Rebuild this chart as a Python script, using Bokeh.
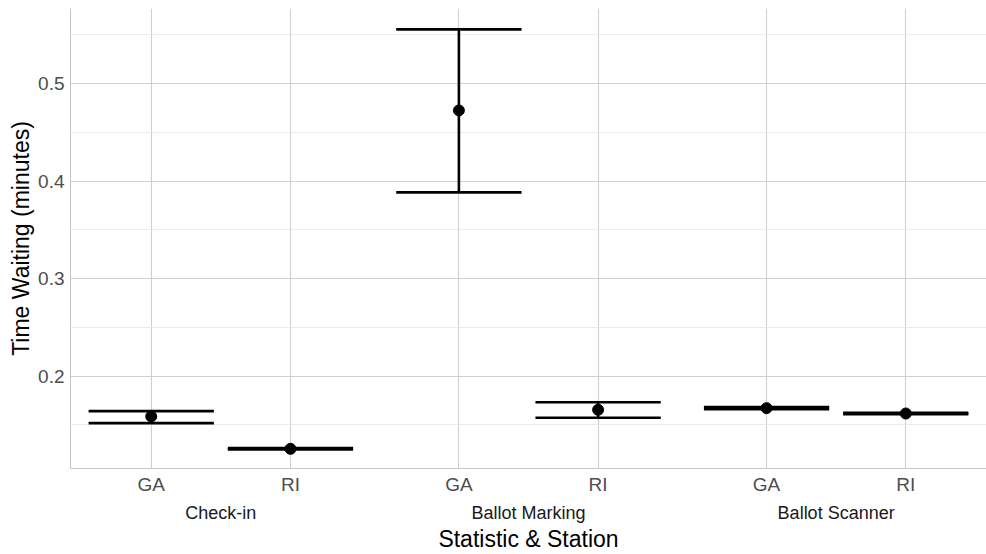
from bokeh.plotting import figure
from bokeh.models import FactorRange, Range1d, FixedTicker, ColumnDataSource
from bokeh.embed import file_html
from bokeh.resources import INLINE

# Mean waiting time per station and state, with confidence bounds
stations = ["Check-in", "Check-in", "Ballot Marking", "Ballot Marking", "Ballot Scanner", "Ballot Scanner"]
states = ["GA", "RI", "GA", "RI", "GA", "RI"]
mean_wait = [0.1587, 0.1255, 0.4725, 0.1655, 0.1672, 0.1617]
lower_wait = [0.1518, 0.1248, 0.3884, 0.1573, 0.1662, 0.1610]
upper_wait = [0.1641, 0.1262, 0.5556, 0.1733, 0.1684, 0.1624]

y_ticks = [0.2, 0.3, 0.4, 0.5]
y_minor = [0.15, 0.25, 0.35, 0.45, 0.55]

factors = list(zip(stations, states))
cap_half = 0.45

src = ColumnDataSource(dict(
    x=factors,
    x_left=[(g, s, -cap_half) for g, s in factors],
    x_right=[(g, s, cap_half) for g, s in factors],
    mean=mean_wait, lo=lower_wait, hi=upper_wait,
))

xr = FactorRange(*factors, group_padding=0.21, range_padding=0.08,
                 range_padding_units="absolute")
p = figure(x_range=xr, y_range=Range1d(0.1053, 0.577),
           width=986, height=554, output_backend="svg", toolbar_location=None,
           min_border_left=70, min_border_right=0, min_border_top=8, min_border_bottom=86)

p.outline_line_color = None
p.background_fill_color = "white"
p.border_fill_color = "white"

# error bars: whisker stem, then caps
p.segment(x0="x", x1="x", y0="lo", y1="hi", source=src, line_color="black", line_width=2.6)
p.segment(x0="x_left", x1="x_right", y0="hi", y1="hi", source=src, line_color="black", line_width=2.6)
p.segment(x0="x_left", x1="x_right", y0="lo", y1="lo", source=src, line_color="black", line_width=2.6)
p.scatter(x="x", y="mean", source=src, size=11, color="black")

# axes
p.yaxis.ticker = FixedTicker(ticks=y_ticks, minor_ticks=y_minor)
font = "Liberation Sans"
for ax in (p.xaxis[0], p.yaxis[0]):
    ax.axis_line_color = "#C4C4C4"
    ax.axis_line_width = 1
    ax.major_tick_line_color = None
    ax.minor_tick_line_color = None
    ax.major_tick_out = 0
    ax.major_tick_in = 0
    ax.minor_tick_out = 0
    ax.minor_tick_in = 0
    ax.major_label_text_font = font
    ax.major_label_text_font_size = "19px"
    ax.major_label_text_color = "#4D4D4D"
    ax.axis_label_text_font = font
    ax.axis_label_text_font_size = "23px"
    ax.axis_label_text_font_style = "normal"
    ax.axis_label_text_color = "black"

p.yaxis.major_label_standoff = 6
p.yaxis.axis_label = "Time Waiting (minutes)"
p.yaxis.axis_label_standoff = 1
p.xaxis.major_label_standoff = 5
p.xaxis.axis_label = "Statistic & Station"
p.xaxis.axis_label_standoff = 0
p.xaxis.group_text_font = font
p.xaxis.group_text_font_size = "18px"
p.xaxis.group_text_color = "#1A1A1A"
p.xaxis.group_text_font_style = "normal"
p.xaxis.separator_line_alpha = 0

# grid
p.xgrid.grid_line_color = "#D0D0D0"
p.xgrid.grid_line_width = 1.1
p.ygrid.grid_line_color = "#D0D0D0"
p.ygrid.grid_line_width = 1.1
p.ygrid.minor_grid_line_color = "#E6E6E6"
p.ygrid.minor_grid_line_width = 0.8

open("out.html", "w").write(file_html(p, INLINE))
